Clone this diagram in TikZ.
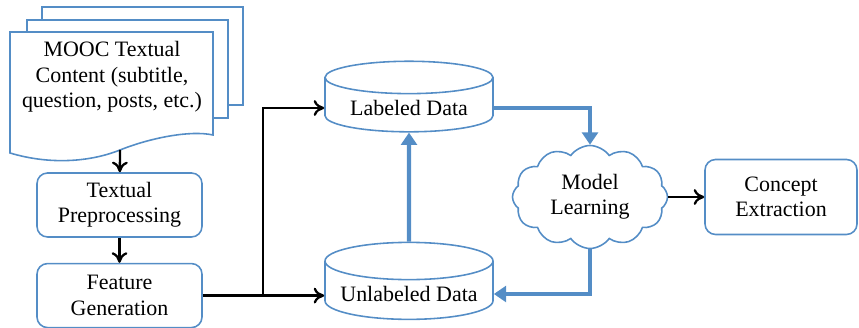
\documentclass[tikz,border=0pt]{standalone}
\usepackage{fontspec}
\setmainfont{Liberation Serif}
\usetikzlibrary{positioning}
\usetikzlibrary{shapes.geometric}
\usetikzlibrary{shapes.symbols}
\usetikzlibrary{arrows.meta}
\definecolor{boxblue}{RGB}{84,141,198}
\tikzset{
    node distance=0.5cm, % gap between stacked boxes
    every node/.style={ % same text for every box
        font=\fontsize{12.5}{14.5}\selectfont,
        align=center
    },
    procbox/.style={ % rounded process boxes
        draw=boxblue,
        line width=0.9pt,
        rounded corners=6pt,
        minimum width=3.3cm,
        minimum height=1.28cm
    },
    datastore/.style={ % the two data cylinders
        draw=boxblue,
        line width=0.9pt,
        cylinder,
        shape border rotate=90,
        aspect=0.25,
        minimum width=3.36cm,
        minimum height=1.36cm
    },
    docpage/.style={ % pages of the document stack
        draw=boxblue,
        fill=white,
        line width=0.9pt
    },
    flow/.style={ % thin black arrows
        draw,
        -{To[length=6pt,width=9pt]},
        line width=1.3pt
    },
    blueflow/.style={ % thick blue arrows
        draw=boxblue,
        -{Triangle[length=7pt,width=9pt]},
        line width=2.4pt
    }
}
\begin{document}
\begin{tikzpicture}
    \useasboundingbox (0,0) rectangle (17.18,6.56);

    % document stack
    \filldraw[docpage] (0.84,4.46) rectangle (4.86,6.42);
    \filldraw[docpage] (0.54,4.20) rectangle (4.56,6.16);
    \filldraw[docpage] (0.2,5.92) -- (4.26,5.92) -- (4.26,3.86)
        .. controls (3.8,3.96) and (3.0,3.80) .. (2.4,3.56)
        .. controls (1.8,3.32) and (1.0,3.26) .. (0.2,3.50) -- cycle;
    \node (mooc) at (2.24,5.02) {MOOC Textual\\Content (subtitle,\\question, posts, etc.)};
    \coordinate (moocbottom) at (2.4,3.56);

    \node[procbox] (prep) at (2.39,2.46) {Textual\\Preprocessing};
    \node[procbox, below=of prep] (feat) {Feature\\Generation};

    \node[datastore] (lab) at (8.18,4.40) {Labeled Data};
    \node[datastore] (unl) at (8.18,0.68) {Unlabeled Data};

    \node[cloud, cloud puffs=12, cloud puff arc=110, cloud ignores aspect, draw=boxblue, line width=0.9pt,
        minimum width=3.1cm, minimum height=2.06cm, inner sep=0pt] (model) at (11.8,2.62) {Model\\Learning};
    \node[procbox, minimum width=3.04cm, minimum height=1.5cm] (concept) at (15.62,2.62) {Concept\\Extraction};

    \coordinate (split) at (5.26,0.68);

    \draw[flow] (moocbottom) -- (prep);
    \draw[flow] (prep) -- (feat);
    \draw[flow] (feat.east) -- (feat.east -| unl.west);
    \draw[flow] (split) |- (lab.west);
    \draw[flow] (model) -- (concept);

    \draw[blueflow] (unl) -- (lab);
    \draw[blueflow] (lab.east) -| (model.north);
    \draw[blueflow] (model.south) |- (unl.east);
\end{tikzpicture}
\end{document}
